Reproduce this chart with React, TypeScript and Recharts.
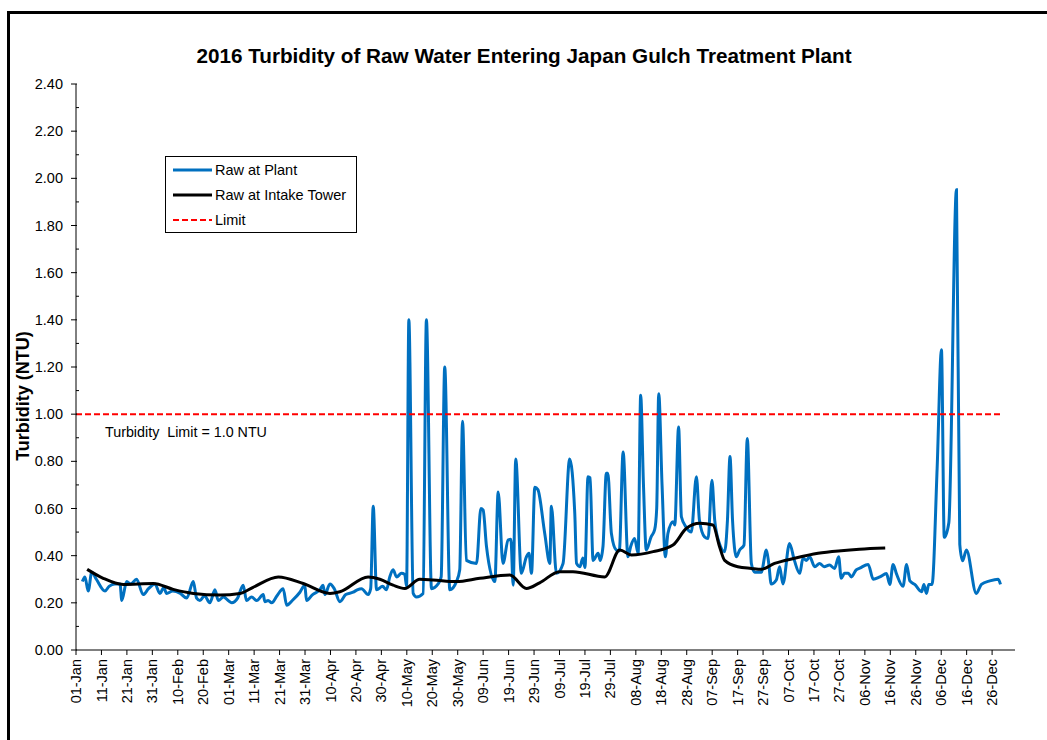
import React from "react";
import { LineChart, Line, XAxis, YAxis, Legend } from "recharts";

const FONT = '"Liberation Sans", Arial, Helvetica, sans-serif';

// Day-of-year (0 = 01-Jan) tick positions and their labels
const xTickDays = [0, 10, 20, 30, 40, 50, 60, 70, 80, 90, 100, 110, 120, 130, 140, 150, 160, 170, 180, 190, 200, 210, 220, 230, 240, 250, 260, 270, 280, 290, 300, 310, 320, 330, 340, 350, 360];
const xTickLabels = ["01-Jan", "11-Jan", "21-Jan", "31-Jan", "10-Feb", "20-Feb", "01-Mar", "11-Mar", "21-Mar", "31-Mar", "10-Apr", "20-Apr", "30-Apr", "10-May", "20-May", "30-May", "09-Jun", "19-Jun", "29-Jun", "09-Jul", "19-Jul", "29-Jul", "08-Aug", "18-Aug", "28-Aug", "07-Sep", "17-Sep", "27-Sep", "07-Oct", "17-Oct", "27-Oct", "06-Nov", "16-Nov", "26-Nov", "06-Dec", "16-Dec", "26-Dec"];
const yTicks = [0, 0.1, 0.2, 0.3, 0.4, 0.5, 0.6, 0.7, 0.8, 0.9, 1.0, 1.1, 1.2, 1.3, 1.4, 1.5, 1.6, 1.7, 1.8, 1.9, 2.0, 2.1, 2.2, 2.3, 2.4];

// Raw at Plant: [day, NTU]
const rawAtPlant: [number, number][] = [
  [2.5, 0.29], [3.5, 0.31], [4.8, 0.25], [6.2, 0.33], [8, 0.3], [11.4, 0.25], [13, 0.27], [15.3, 0.28], [17.3, 0.28], [18, 0.21],
  [19.9, 0.29], [21.5, 0.28], [23.8, 0.3], [26.4, 0.235], [28.5, 0.26], [31, 0.28], [33, 0.24], [34.5, 0.265], [35.6, 0.24], [38, 0.25],
  [41, 0.24], [43.5, 0.22], [46.1, 0.29], [47.4, 0.22], [48.7, 0.21], [50.5, 0.23], [52.6, 0.2], [54.6, 0.255], [55.9, 0.21], [58, 0.225],
  [59.8, 0.21], [61.2, 0.2], [63.5, 0.22], [65.7, 0.275], [67, 0.21], [69, 0.225], [71, 0.21], [73.6, 0.235], [74.2, 0.205], [75.5, 0.21],
  [76.9, 0.2], [79, 0.23], [81.4, 0.26], [82.8, 0.19], [85, 0.21], [88, 0.245], [89.9, 0.275], [90.6, 0.21], [93, 0.235], [95.8, 0.255],
  [97.1, 0.275], [97.8, 0.235], [99.8, 0.28], [101.5, 0.26], [103.7, 0.205], [106, 0.235], [108.9, 0.245], [110.5, 0.255], [112.2, 0.26], [114.8, 0.235],
  [115.8, 0.26], [116.8, 0.61], [118.1, 0.255], [120.5, 0.27], [122, 0.255], [123.3, 0.31], [124.6, 0.34], [126, 0.31], [127.9, 0.325], [129.2, 0.32],
  [129.9, 0.27], [130.8, 1.4], [132.5, 0.24], [133.8, 0.225], [136.4, 0.24], [137.7, 1.4], [139.7, 0.26], [142.3, 0.28], [143.5, 0.31], [144.9, 1.2],
  [146.9, 0.255], [149.5, 0.29], [150.8, 0.34], [151.9, 0.97], [153.4, 0.38], [157.4, 0.367], [159.1, 0.6], [160, 0.593], [161.3, 0.44], [164.6, 0.29],
  [165.9, 0.67], [167.8, 0.367], [169.8, 0.466], [170.9, 0.47], [171.8, 0.275], [172.8, 0.81], [175, 0.325], [177, 0.395], [178, 0.41], [179, 0.325],
  [180.3, 0.69], [181.5, 0.68], [184.2, 0.494], [186.2, 0.367], [186.8, 0.61], [188.8, 0.325], [191.4, 0.367], [194, 0.81], [196, 0.58], [196.7, 0.367],
  [198, 0.353], [199.2, 0.39], [200, 0.35], [201.2, 0.735], [202, 0.73], [203.2, 0.38], [205.2, 0.41], [206, 0.38], [207.1, 0.44], [208.4, 0.75],
  [209, 0.75], [210.4, 0.494], [212.3, 0.424], [213.5, 0.42], [215, 0.84], [216.9, 0.395], [218, 0.44], [219.5, 0.473], [220.9, 0.41], [221.9, 1.08],
  [223, 0.7], [224.1, 0.424], [226, 0.48], [227.4, 0.51], [228.2, 0.6], [229, 1.087], [230.3, 0.7], [231.6, 0.395], [232.6, 0.494], [234.6, 0.544],
  [235.3, 0.53], [236.8, 0.946], [237.9, 0.565], [239.8, 0.52], [241.8, 0.5], [243.8, 0.735], [245, 0.55], [247, 0.48], [248.4, 0.473], [249.9, 0.72],
  [251, 0.55], [252.9, 0.45], [254.9, 0.417], [256, 0.55], [257, 0.82], [258, 0.55], [259.5, 0.395], [260.8, 0.424], [262.5, 0.445], [263.8, 0.897],
  [265.4, 0.367], [266.7, 0.33], [269.3, 0.33], [271.3, 0.424], [272.2, 0.37], [273.2, 0.28], [275.2, 0.297], [276.5, 0.353], [277.8, 0.28], [280.4, 0.452],
  [282.3, 0.38], [284.4, 0.325], [285.7, 0.39], [287, 0.38], [288.3, 0.395], [290.3, 0.353], [292.2, 0.367], [294, 0.353], [296.1, 0.36], [298.1, 0.346],
  [299.7, 0.395], [300.7, 0.304], [302, 0.325], [303.5, 0.325], [304.7, 0.31], [306.6, 0.34], [308, 0.347], [311.3, 0.363], [313.3, 0.3], [315.9, 0.31],
  [318.5, 0.324], [319.8, 0.278], [321.1, 0.363], [322.4, 0.324], [325, 0.27], [326.4, 0.363], [327.7, 0.293], [329.6, 0.278], [332.3, 0.247], [333.2, 0.278],
  [334.2, 0.24], [335.1, 0.278], [336.4, 0.278], [338.4, 0.77], [340.1, 1.273], [341.2, 0.478], [343, 0.54], [346, 1.952], [347.3, 0.448], [348.4, 0.378],
  [349.9, 0.424], [353.8, 0.24], [355.8, 0.278], [359.1, 0.293], [362.4, 0.3], [363.3, 0.278],
];

// Raw at Intake Tower: [day, NTU]
const rawAtIntake: [number, number][] = [
  [4.4, 0.342], [10.7, 0.304], [18.6, 0.278], [30.4, 0.282], [38.2, 0.257], [46.1, 0.24], [56.6, 0.233], [64.4, 0.24], [69.6, 0.266], [79.5, 0.31],
  [89.3, 0.282], [99.8, 0.24], [103.7, 0.247], [114.8, 0.31], [119.4, 0.3], [124.6, 0.275], [129.2, 0.261], [135.1, 0.3], [140.3, 0.297], [149.5, 0.29],
  [158.7, 0.304], [170.5, 0.318], [177, 0.261], [182.2, 0.285], [190.1, 0.332], [195.3, 0.332], [207.8, 0.31], [213.7, 0.424], [218.3, 0.403], [226.8, 0.417],
  [234.6, 0.445], [239.9, 0.516], [245.1, 0.537], [250.3, 0.53], [252.9, 0.438], [254.9, 0.38], [260.1, 0.353], [265.4, 0.346], [269.3, 0.342], [274.5, 0.367],
  [282.4, 0.389], [291.6, 0.41], [300.7, 0.421], [307.9, 0.427], [318, 0.432],
];

// Limit: [day, NTU]
const limitLine: [number, number][] = [[0, 1.0], [364, 1.0]];

const series = [
  { name: "Raw at Plant", data: rawAtPlant, color: "#0070C0", width: 3, dash: undefined as string | undefined, type: "monotone" },
  { name: "Raw at Intake Tower", data: rawAtIntake, color: "#000000", width: 3, dash: undefined as string | undefined, type: "monotone" },
  { name: "Limit", data: limitLine, color: "#FF0000", width: 2, dash: "6 3" as string | undefined, type: "linear" },
];

const toRows = (pairs: [number, number][]) => pairs.map(([d, v]) => ({ d, v }));

const TICK_FONT = 14.5;

const YTick = (props: any) => {
  const { x, y, payload } = props;
  const val = Number(payload.value);
  const major = Math.round(val * 10) % 2 === 0;
  return (
    <g>
      {major ? (
        <line x1={x - 5} x2={x + 1} y1={y} y2={y} stroke="#000" strokeWidth={1} />
      ) : (
        <line x1={x} x2={x + 3} y1={y} y2={y} stroke="#000" strokeWidth={1} />
      )}
      {major && (
        <text x={x - 13} y={y} dy="0.35em" textAnchor="end" fontSize={TICK_FONT} fill="#000" fontFamily={FONT}>
          {val.toFixed(2)}
        </text>
      )}
    </g>
  );
};

const XTick = (props: any) => {
  const { x, y, payload } = props;
  const idx = xTickDays.indexOf(Number(payload.value));
  const label = idx >= 0 ? xTickLabels[idx] : "";
  return (
    <g>
      <line x1={x} x2={x} y1={y} y2={y + 5} stroke="#000" strokeWidth={1} />
      <text transform={`translate(${x},${y + 9}) rotate(-90)`} dy="0.35em" textAnchor="end" fontSize={TICK_FONT} fill="#000" fontFamily={FONT}>
        {label}
      </text>
    </g>
  );
};

const LegendBox = () => (
  <div
    style={{
      width: 192,
      height: 77,
      boxSizing: "border-box",
      border: "1px solid #000",
      background: "#fff",
      fontFamily: FONT,
      fontSize: TICK_FONT,
      color: "#000",
    }}
  >
    {series.map((s) => (
      <div key={s.name} style={{ display: "flex", alignItems: "center", height: 25.3, whiteSpace: "nowrap" }}>
        <svg width={48} height={8} style={{ display: "block", flex: "none" }}>
          <line x1={7} x2={46} y1={4} y2={4} stroke={s.color} strokeWidth={s.width} strokeDasharray={s.dash} />
        </svg>
        <span style={{ marginLeft: 1 }}>{s.name}</span>
      </div>
    ))}
  </div>
);

export default function App() {
  return (
    <div style={{ position: "absolute", left: 0, top: 0, width: 1047, height: 740, overflow: "hidden", background: "#fff" }}>
      <div style={{ position: "absolute", left: 7, top: 11, width: 1100, height: 800, border: "3px solid #000", boxSizing: "border-box" }} />
      <div style={{ position: "absolute", left: 0, top: 0 }}>
        <LineChart width={1047} height={740} margin={{ top: 84, right: 32, bottom: 20, left: 0 }} style={{ fontFamily: FONT }}>
          <XAxis
            type="number"
            dataKey="d"
            domain={[0, 369]}
            ticks={xTickDays}
            interval={0}
            tick={<XTick />}
            tickSize={0}
            tickMargin={0}
            tickLine={false}
            axisLine={{ stroke: "#000", strokeWidth: 1 }}
            height={70}
            allowDataOverflow
          />
          <YAxis
            type="number"
            domain={[0, 2.4]}
            ticks={yTicks}
            interval={0}
            tick={<YTick />}
            tickSize={0}
            tickMargin={0}
            tickLine={false}
            axisLine={{ stroke: "#000", strokeWidth: 1 }}
            width={76}
            allowDataOverflow
          />
          {series.map((s) => (
            <Line
              key={s.name}
              name={s.name}
              data={toRows(s.data)}
              dataKey="v"
              type={s.type as any}
              stroke={s.color}
              strokeWidth={s.width}
              strokeDasharray={s.dash}
              dot={false}
              activeDot={false}
              isAnimationActive={false}
            />
          ))}
          <Legend
            layout="vertical"
            align="center"
            verticalAlign="middle"
            content={<LegendBox />}
            wrapperStyle={{ left: 165, top: 156, width: 192, height: 77, margin: 0 }}
          />
        </LineChart>
      </div>
      <svg width={1047} height={740} style={{ position: "absolute", left: 0, top: 0, pointerEvents: "none" }}>
        <text x={524} y={63} textAnchor="middle" fontFamily={FONT} fontSize={20.7} fontWeight="bold" fill="#000">
          2016 Turbidity of Raw Water Entering Japan Gulch Treatment Plant
        </text>
        <text transform="translate(29,396) rotate(-90)" textAnchor="middle" fontFamily={FONT} fontSize={18} fontWeight="bold" fill="#000">
          Turbidity (NTU)
        </text>
        <text x={105} y={437} fontFamily={FONT} fontSize={14.3} fill="#000" style={{ whiteSpace: "pre" }}>
          {"Turbidity  Limit = 1.0 NTU"}
        </text>
      </svg>
    </div>
  );
}
